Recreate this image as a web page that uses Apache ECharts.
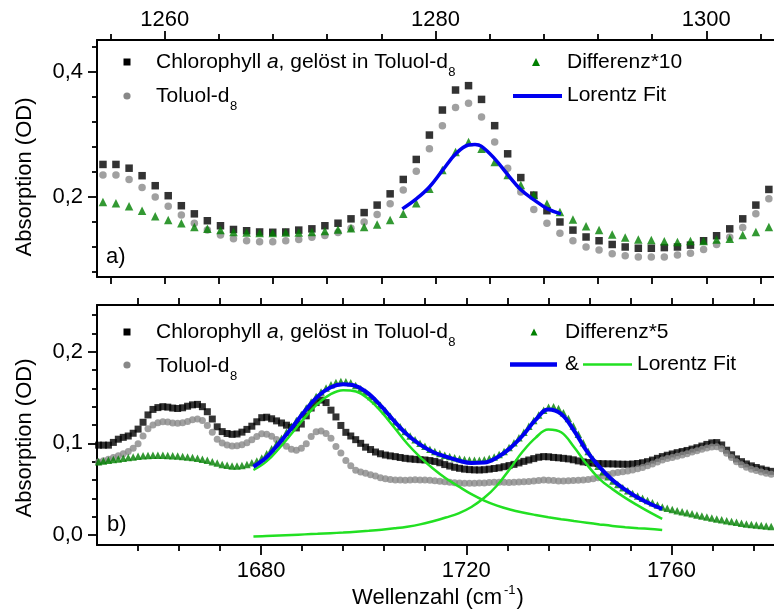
<!DOCTYPE html>
<html>
<head>
<meta charset="utf-8">
<script src="https://cdn.jsdelivr.net/npm/echarts@6/dist/echarts.min.js"></script>
<style>
  html, body { margin: 0; padding: 0; background: #fff; }
  #chart { width: 774px; height: 615px; }
</style>
</head>
<body>
<div id="chart"></div>
<script>
// ---------- a) 1255–1305 cm^-1 ----------
const topX = [1255.44, 1256.40, 1257.37, 1258.33, 1259.30, 1260.26, 1261.23, 1262.19, 1263.15, 1264.12,
  1265.08, 1266.05, 1267.01, 1267.98, 1268.94, 1269.90, 1270.87, 1271.83, 1272.80, 1273.76,
  1274.73, 1275.69, 1276.65, 1277.62, 1278.58, 1279.55, 1280.51, 1281.48, 1282.44, 1283.40,
  1284.37, 1285.33, 1286.30, 1287.26, 1288.23, 1289.19, 1290.15, 1291.12, 1292.08, 1293.05,
  1294.01, 1294.98, 1295.94, 1296.90, 1297.87, 1298.83, 1299.80, 1300.76, 1301.73, 1302.69,
  1303.66, 1304.62];
const topChl = [0.252, 0.252, 0.246, 0.234, 0.218, 0.202, 0.186, 0.173, 0.162, 0.154,
  0.148, 0.146, 0.144, 0.1435, 0.144, 0.147, 0.149, 0.154, 0.158, 0.165,
  0.175, 0.187, 0.205, 0.228, 0.260, 0.299, 0.339, 0.371, 0.378, 0.356,
  0.314, 0.269, 0.231, 0.203, 0.178, 0.160, 0.147, 0.136, 0.130, 0.124,
  0.120, 0.118, 0.118, 0.119, 0.120, 0.123, 0.130, 0.138, 0.149, 0.165,
  0.187, 0.212];
const topTol = [0.235, 0.235, 0.228, 0.215, 0.200, 0.185, 0.171, 0.158, 0.147, 0.139,
  0.133, 0.130, 0.1285, 0.1285, 0.130, 0.132, 0.1355, 0.1385, 0.143, 0.150,
  0.160, 0.172, 0.189, 0.211, 0.241, 0.277, 0.314, 0.343, 0.350, 0.328,
  0.288, 0.246, 0.208, 0.180, 0.158, 0.142, 0.130, 0.120, 0.115, 0.109,
  0.106, 0.104, 0.104, 0.104, 0.107, 0.110, 0.116, 0.124, 0.1355, 0.151,
  0.173, 0.197];
const topDiff = [0.192, 0.190, 0.185, 0.178, 0.169, 0.163, 0.158, 0.152, 0.149, 0.147,
  0.144, 0.143, 0.1424, 0.1424, 0.143, 0.143, 0.144, 0.1456, 0.148, 0.150,
  0.152, 0.156, 0.163, 0.173, 0.190, 0.213, 0.243, 0.272, 0.288, 0.277,
  0.256, 0.235, 0.219, 0.203, 0.189, 0.176, 0.164, 0.153, 0.147, 0.140,
  0.135, 0.132, 0.131, 0.129, 0.128, 0.1296, 0.1296, 0.132, 0.133, 0.139,
  0.144, 0.152];
const topFitX = [1277.55, 1278.58, 1279.55, 1280.53, 1281.50, 1282.43, 1282.92, 1283.40,
  1284.38, 1285.36, 1286.33, 1287.30, 1288.28, 1289.26];
const topFitY = [0.181, 0.197, 0.216, 0.243, 0.269, 0.283, 0.284, 0.281,
  0.261, 0.235, 0.211, 0.195, 0.181, 0.173];

// ---------- b) 1648–1780 cm^-1 ----------
const botX = [1648.30, 1649.26, 1650.23, 1651.19, 1652.16, 1653.12, 1654.09, 1655.05, 1656.01, 1656.98,
  1657.94, 1658.91, 1659.87, 1660.84, 1661.80, 1662.76, 1663.73, 1664.69, 1665.66, 1666.62,
  1667.59, 1668.55, 1669.51, 1670.48, 1671.44, 1672.41, 1673.37, 1674.34, 1675.30, 1676.26,
  1677.23, 1678.19, 1679.16, 1680.12, 1681.09, 1682.05, 1683.01, 1683.98, 1684.94, 1685.91,
  1686.87, 1687.84, 1688.80, 1689.76, 1690.73, 1691.69, 1692.66, 1693.62, 1694.59, 1695.55,
  1696.52, 1697.48, 1698.44, 1699.41, 1700.37, 1701.34, 1702.30, 1703.27, 1704.23, 1705.19,
  1706.16, 1707.12, 1708.09, 1709.05, 1710.02, 1710.98, 1711.94, 1712.91, 1713.87, 1714.84,
  1715.80, 1716.77, 1717.73, 1718.69, 1719.66, 1720.62, 1721.59, 1722.55, 1723.52, 1724.48,
  1725.44, 1726.41, 1727.37, 1728.34, 1729.30, 1730.27, 1731.23, 1732.19, 1733.16, 1734.12,
  1735.09, 1736.05, 1737.02, 1737.98, 1738.94, 1739.91, 1740.87, 1741.84, 1742.80, 1743.77,
  1744.73, 1745.69, 1746.66, 1747.62, 1748.59, 1749.55, 1750.52, 1751.48, 1752.44, 1753.41,
  1754.37, 1755.34, 1756.30, 1757.27, 1758.23, 1759.19, 1760.16, 1761.12, 1762.09, 1763.05,
  1764.02, 1764.98, 1765.94, 1766.91, 1767.87, 1768.84, 1769.80, 1770.77, 1771.73, 1772.69,
  1773.66, 1774.62, 1775.59, 1776.55, 1777.52, 1778.48, 1779.45];
const botChl = [0.098, 0.098, 0.098, 0.101, 0.1045, 0.1065, 0.108, 0.111, 0.1155, 0.123,
  0.131, 0.137, 0.139, 0.140, 0.1395, 0.1385, 0.138, 0.1388, 0.1405, 0.142,
  0.1425, 0.140, 0.1345, 0.1265, 0.118, 0.1128, 0.1107, 0.1098, 0.1102, 0.1122,
  0.1152, 0.1187, 0.1235, 0.128, 0.1285, 0.1268, 0.1245, 0.1222, 0.1198, 0.1175,
  0.1168, 0.121, 0.130, 0.1385, 0.1445, 0.1472, 0.1445, 0.1362, 0.1288, 0.1195,
  0.1120, 0.1080, 0.1040, 0.1000, 0.0958, 0.0932, 0.0905, 0.0886, 0.0872, 0.0863,
  0.0855, 0.0845, 0.0836, 0.0830, 0.0825, 0.0821, 0.0818, 0.0812, 0.0802, 0.0788,
  0.0768, 0.0752, 0.0738, 0.0727, 0.0718, 0.0713, 0.0710, 0.0709, 0.0712, 0.0718,
  0.0725, 0.0733, 0.0745, 0.0757, 0.0770, 0.0786, 0.0803, 0.0818, 0.0833, 0.0848,
  0.0855, 0.0853, 0.0846, 0.0842, 0.0836, 0.0830, 0.0820, 0.0808, 0.0797, 0.0790,
  0.0783, 0.0779, 0.0777, 0.0776, 0.0775, 0.0773, 0.0772, 0.0771, 0.0774, 0.0780,
  0.0788, 0.0800, 0.0817, 0.0836, 0.0855, 0.0870, 0.0884, 0.0898, 0.0910, 0.0922,
  0.0937, 0.0952, 0.0970, 0.0988, 0.1005, 0.1008, 0.0982, 0.0925, 0.0875, 0.0830,
  0.0800, 0.0775, 0.0754, 0.0736, 0.0720, 0.0706, 0.0694];
const botTol = [0.0795, 0.081, 0.0825, 0.0845, 0.0865, 0.0885, 0.091, 0.0945, 0.0995, 0.108,
  0.116, 0.120, 0.1225, 0.1235, 0.1233, 0.1222, 0.1218, 0.1225, 0.1238, 0.1258,
  0.1265, 0.1248, 0.1195, 0.112, 0.1045, 0.1003, 0.0982, 0.0971, 0.0973, 0.0984,
  0.1005, 0.1038, 0.1075, 0.1105, 0.1098, 0.1077, 0.1043, 0.1004, 0.0968, 0.0935,
  0.0925, 0.0945, 0.0995, 0.1075, 0.1125, 0.1135, 0.1108, 0.1055, 0.0965, 0.0895,
  0.0812, 0.0755, 0.0706, 0.0688, 0.0672, 0.0658, 0.0642, 0.0625, 0.0613, 0.0605,
  0.0600, 0.0599, 0.0598, 0.0600, 0.0601, 0.0600, 0.0600, 0.0598, 0.0592, 0.0586,
  0.0580, 0.0575, 0.0570, 0.0566, 0.0564, 0.0563, 0.0564, 0.0566, 0.0568, 0.0571,
  0.0574, 0.0576, 0.0575, 0.0572, 0.0574, 0.0578, 0.0580, 0.0582, 0.0588, 0.0595,
  0.0600, 0.0598, 0.0594, 0.0590, 0.0589, 0.0591, 0.0594, 0.0597, 0.0600, 0.0605,
  0.0613, 0.0625, 0.0642, 0.0660, 0.0673, 0.0682, 0.0690, 0.0697, 0.0708, 0.0722,
  0.0737, 0.0755, 0.0775, 0.0797, 0.0818, 0.0833, 0.0846, 0.0860, 0.0873, 0.0887,
  0.0905, 0.0920, 0.0934, 0.0948, 0.0960, 0.0962, 0.0940, 0.0892, 0.0845, 0.0798,
  0.0765, 0.0738, 0.0718, 0.0702, 0.0688, 0.0674, 0.0662];
const botDiff = [0.0800, 0.0808, 0.0815, 0.0823, 0.0830, 0.0838, 0.0845, 0.0852, 0.0858, 0.0863,
  0.0867, 0.0870, 0.0871, 0.0870, 0.0868, 0.0865, 0.0861, 0.0857, 0.0852, 0.0845,
  0.0836, 0.0826, 0.0814, 0.0800, 0.0784, 0.0770, 0.0760, 0.0753, 0.0752, 0.0758,
  0.0770, 0.0787, 0.0808, 0.0840, 0.0885, 0.0940, 0.0995, 0.1055, 0.1120, 0.1185,
  0.1250, 0.1315, 0.1385, 0.1450, 0.1510, 0.1560, 0.1605, 0.1640, 0.1665, 0.1675,
  0.1672, 0.1660, 0.1630, 0.1595, 0.1560, 0.1510, 0.1465, 0.1415, 0.1355, 0.1295,
  0.1235, 0.1180, 0.1128, 0.1080, 0.1038, 0.1000, 0.0967, 0.0935, 0.0910, 0.0888,
  0.0870, 0.0855, 0.0842, 0.0832, 0.0824, 0.0818, 0.0815, 0.0816, 0.0822, 0.0834,
  0.0852, 0.0878, 0.0912, 0.0955, 0.1005, 0.1060, 0.1120, 0.1185, 0.1250, 0.1310,
  0.1360, 0.1395, 0.1400, 0.1380, 0.1335, 0.1270, 0.1190, 0.1100, 0.1005, 0.0910,
  0.0825, 0.0750, 0.0690, 0.0635, 0.0590, 0.0550, 0.0515, 0.0482, 0.0452, 0.0425,
  0.0400, 0.0375, 0.0350, 0.0327, 0.0305, 0.0290, 0.0277, 0.0265, 0.0253, 0.0242,
  0.0230, 0.0218, 0.0207, 0.0196, 0.0185, 0.0175, 0.0165, 0.0155, 0.0146, 0.0137,
  0.0128, 0.0120, 0.0113, 0.0107, 0.0102, 0.0097, 0.0093];
const botFitX = [1678.5, 1681, 1683.5, 1686, 1688.5, 1691, 1693.5, 1696, 1698.5, 1701,
  1703.5, 1706, 1708.5, 1711, 1713.5, 1716, 1718.5, 1721, 1723.5, 1726,
  1728.5, 1731, 1733.5, 1736, 1738.5, 1741, 1743.5, 1746, 1748.5, 1751,
  1753.5, 1756, 1758.2];
const botFitSum = [0.0745, 0.0845, 0.1000, 0.1170, 0.1350, 0.1510, 0.1610, 0.1645, 0.1625, 0.1540,
  0.1400, 0.1240, 0.1095, 0.0985, 0.0905, 0.0855, 0.0812, 0.0785, 0.0790, 0.0845,
  0.0945, 0.1085, 0.1255, 0.1370, 0.1320, 0.1140, 0.0915, 0.0740, 0.0600, 0.0495,
  0.0405, 0.0335, 0.0284];
const botFitPeak1 = [0.0709, 0.0800, 0.0945, 0.1110, 0.1280, 0.1430, 0.1535, 0.1580, 0.1565, 0.1480,
  0.1340, 0.1170, 0.0995, 0.0850, 0.0725, 0.0618, 0.0530, 0.0445, 0.0375, 0.0320,
  0.0278, 0.0245, 0.0218, 0.0194, 0.0172, 0.0152, 0.0133, 0.0115, 0.0098, 0.0085,
  0.0074, 0.0064, 0.0055];
const botFitPeak2 = [-0.0018, -0.0012, -0.0006, 0.0000, 0.0006, 0.0012, 0.0019, 0.0026, 0.0035, 0.0045,
  0.0057, 0.0072, 0.0090, 0.0115, 0.0150, 0.0190, 0.0235, 0.0305, 0.0405, 0.0540,
  0.0720, 0.0910, 0.1060, 0.1150, 0.1120, 0.0960, 0.0770, 0.0610, 0.0500, 0.0405,
  0.0320, 0.0240, 0.0175];

// ---------- tick positions ----------
const topMajorX = [1260, 1280, 1300];
const topMinorX = [1256, 1264, 1268, 1272, 1276, 1284, 1288, 1292, 1296, 1304];
const topMajorY = [0.2, 0.4];
const topMinorY = [0.08, 0.12, 0.16, 0.24, 0.28, 0.32, 0.36, 0.44];
const botMajorX = [1680, 1720, 1760];
const botMinorX = [1656, 1664, 1672, 1688, 1696, 1704, 1712, 1728, 1736, 1744, 1752, 1768, 1776];
const botMajorY = [0, 0.1, 0.2];
const botMinorY = [0.02, 0.04, 0.06, 0.08, 0.12, 0.14, 0.16, 0.18, 0.22, 0.24];

const FONT = '"Liberation Sans", Arial, Helvetica, sans-serif';
const BLACK = '#000000', GREY = '#888888', DKGREEN = '#008000', BLUE = '#0000f0', LTGREEN = '#22e022';

const pairs = (xs, ys) => xs.map((x, i) => [x, ys[i]]);
const commaFmt = v => v.toFixed(1).replace('.', ',');

function axis(opts) {
  const a = {
    type: 'value',
    gridIndex: opts.grid,
    position: opts.pos,
    min: opts.min,
    max: opts.max,
    splitLine: { show: false },
    axisLine: { show: !!opts.line, onZero: false, lineStyle: { color: BLACK, width: 2 } },
    axisTick: {
      show: true, inside: false, length: opts.len,
      customValues: opts.ticks,
      lineStyle: { color: BLACK, width: 1.8 }
    },
    axisLabel: { show: false },
    minorTick: { show: false }
  };
  if (opts.labels) {
    a.axisLabel = {
      show: true, customValues: opts.ticks, margin: opts.margin,
      color: BLACK, fontSize: 22, fontFamily: FONT,
      formatter: opts.fmt || (v => String(v))
    };
  }
  return a;
}

const xAxes = [
  axis({ grid: 0, pos: 'top', min: 1255, max: 1305, ticks: topMajorX, len: 9, line: true, labels: true, margin: 9 }),
  axis({ grid: 0, pos: 'top', min: 1255, max: 1305, ticks: topMinorX, len: 6 }),
  axis({ grid: 0, pos: 'bottom', min: 1255, max: 1305, ticks: topMajorX.concat(topMinorX), len: 7, line: true }),
  axis({ grid: 1, pos: 'bottom', min: 1648, max: 1780, ticks: botMajorX, len: 10, line: true, labels: true, margin: 15 }),
  axis({ grid: 1, pos: 'bottom', min: 1648, max: 1780, ticks: botMinorX, len: 6 }),
  axis({ grid: 1, pos: 'top', min: 1648, max: 1780, ticks: botMajorX.concat(botMinorX), len: 7, line: true })
];
const yAxes = [
  axis({ grid: 0, pos: 'left', min: 0.072, max: 0.451, ticks: topMajorY, len: 9, line: true, labels: true, margin: 14, fmt: commaFmt }),
  axis({ grid: 0, pos: 'left', min: 0.072, max: 0.451, ticks: topMinorY, len: 5 }),
  axis({ grid: 1, pos: 'left', min: -0.011, max: 0.251, ticks: botMajorY, len: 9, line: true, labels: true, margin: 14, fmt: commaFmt }),
  axis({ grid: 1, pos: 'left', min: -0.011, max: 0.251, ticks: botMinorY, len: 5 })
];

function scatter(xi, yi, xs, ys, symbol, size, color) {
  return { type: 'scatter', xAxisIndex: xi, yAxisIndex: yi, data: pairs(xs, ys),
    symbol: symbol, symbolSize: size, itemStyle: { color: color }, silent: true };
}
function curve(xi, yi, xs, ys, color, width) {
  return { type: 'line', xAxisIndex: xi, yAxisIndex: yi, data: pairs(xs, ys),
    smooth: 0.4, symbol: 'none', showSymbol: false, silent: true,
    lineStyle: { color: color, width: width } };
}

const series = [
  scatter(0, 0, topX, topChl, 'rect', 7.5, BLACK),
  scatter(0, 0, topX, topTol, 'circle', 7.5, GREY),
  scatter(0, 0, topX, topDiff, 'triangle', 8.5, DKGREEN),
  curve(0, 0, topFitX, topFitY, BLUE, 3.5),
  scatter(3, 2, botX, botChl, 'rect', 7, BLACK),
  scatter(3, 2, botX, botTol, 'circle', 7, GREY),
  scatter(3, 2, botX, botDiff, 'triangle', 7.5, DKGREEN),
  curve(3, 2, botFitX, botFitPeak1, LTGREEN, 2.5),
  curve(3, 2, botFitX, botFitPeak2, LTGREEN, 2.5),
  curve(3, 2, botFitX, botFitSum, BLUE, 4)
];

// ---------- text helpers for legends and axis titles ----------
const mctx = document.createElement('canvas').getContext('2d');
function textWidth(str, font) { mctx.font = font; return mctx.measureText(str).width; }
function txt(str, x, y, font, extra) {
  return Object.assign({ type: 'text', x: x, y: y, silent: true,
    style: { text: str, font: font, fill: BLACK, align: 'left', verticalAlign: 'middle' } }, extra || {});
}
const F21 = '21px ' + FONT, F21I = 'italic 21px ' + FONT, F13 = '13px ' + FONT, F22 = '22px ' + FONT;

function chlEntry(x, y) {
  const p1 = 'Chlorophyll ', p2 = 'a', p3 = ', gelöst in Toluol-d';
  const w1 = textWidth(p1, F21), w2 = textWidth(p2, F21I), w3 = textWidth(p3, F21);
  return [txt(p1, x, y, F21), txt(p2, x + w1, y, F21I), txt(p3, x + w1 + w2, y, F21),
    txt('8', x + w1 + w2 + w3 + 0.5, y + 10, F13)];
}
function tolEntry(x, y) {
  const w = textWidth('Toluol-d', F21);
  return [txt('Toluol-d', x, y, F21), txt('8', x + w + 0.5, y + 10, F13)];
}
function square(cx, cy, s) {
  return { type: 'rect', silent: true, shape: { x: cx - s / 2, y: cy - s / 2, width: s, height: s }, style: { fill: BLACK } };
}
function dot(cx, cy, r) {
  return { type: 'circle', silent: true, shape: { cx: cx, cy: cy, r: r }, style: { fill: GREY } };
}
function tri(cx, cy, s) {
  return { type: 'polygon', silent: true,
    shape: { points: [[cx, cy - s / 2], [cx + s / 2, cy + s / 2], [cx - s / 2, cy + s / 2]] },
    style: { fill: DKGREEN } };
}
function seg(x1, x2, y, color, w) {
  return { type: 'line', silent: true, shape: { x1: x1, y1: y, x2: x2, y2: y }, style: { stroke: color, lineWidth: w } };
}
function vtitle(str, x, y) {
  return { type: 'text', x: x, y: y, rotation: Math.PI / 2, silent: true,
    style: { text: str, font: F22, fill: BLACK, align: 'center', verticalAlign: 'middle' } };
}

const graphics = [];
// legend, panel a)
graphics.push(square(127, 62, 7), ...chlEntry(156, 62.5));
graphics.push(dot(127, 96, 3.6), ...tolEntry(156, 96));
graphics.push(tri(536, 62, 8), txt('Differenz*10', 567, 62.5, F21));
graphics.push(seg(513, 562, 96, BLUE, 4), txt('Lorentz Fit', 567, 95.5, F21));
// legend, panel b)
graphics.push(square(127, 332, 7), ...chlEntry(156, 332));
graphics.push(dot(127, 365, 3.6), ...tolEntry(156, 366));
graphics.push(tri(534, 332, 7), txt('Differenz*5', 565, 332, F21));
graphics.push(seg(510, 557, 364.5, BLUE, 4.5), txt('&', 565, 364.5, F21),
  seg(583, 632, 364.5, LTGREEN, 2.5), txt('Lorentz Fit', 637, 364.5, F21));
// panel tags
graphics.push(txt('a)', 106, 257, F22), txt('b)', 107, 525, F22));
// y-axis titles
graphics.push(vtitle('Absorption (OD)', 25, 177), vtitle('Absorption (OD)', 25, 438));
// x-axis title with superscript
(function () {
  const main = 'Wellenzahl (cm', sup = '-1', close = ')';
  const wm = textWidth(main, F22), ws = textWidth(sup, F13), wc = textWidth(close, F22);
  const total = wm + 2 + ws + 1 + wc;
  const x0 = 438 - total / 2, y = 597.5;
  graphics.push(txt(main, x0, y, F22), txt(sup, x0 + wm + 2, y - 7.5, F13), txt(close, x0 + wm + 2 + ws + 1, y, F22));
})();

const chart = echarts.init(document.getElementById('chart'), null, { renderer: 'canvas' });
chart.setOption({
  animation: false,
  backgroundColor: '#ffffff',
  grid: [
    { left: 97, top: 40, width: 683, height: 237, containLabel: false },
    { left: 97, top: 305, width: 683, height: 240, containLabel: false }
  ],
  xAxis: xAxes,
  yAxis: yAxes,
  series: series,
  graphic: graphics
});
</script>
</body>
</html>
